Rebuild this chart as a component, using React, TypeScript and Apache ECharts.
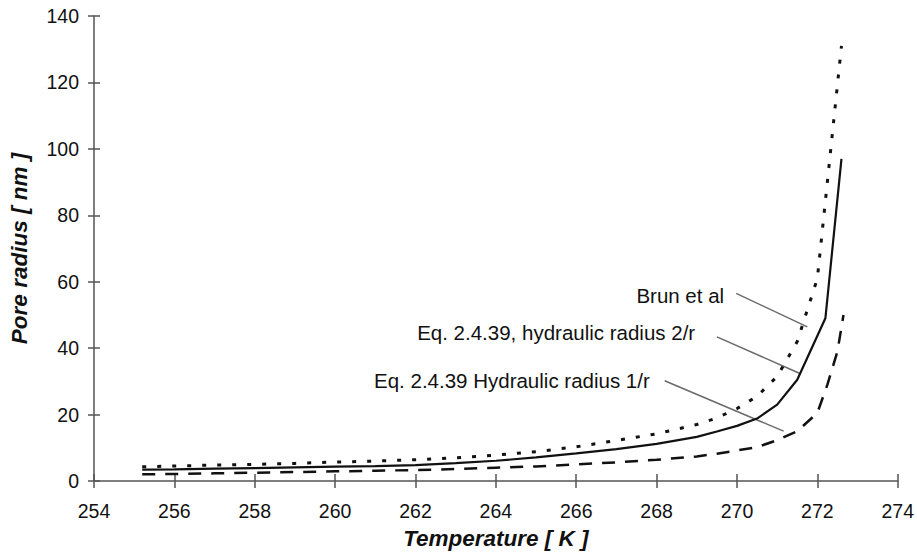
import React, { useEffect, useRef } from "react";
import * as echarts from "echarts";

// Temperature [K] and pore radius [nm] for each curve
const brunT = [255.2, 256, 257, 258, 259, 260, 261, 262, 263, 264, 265, 266, 267, 268, 269, 269.5, 270, 270.5, 271, 271.5, 272, 272.6];
const brunR = [4.3, 4.5, 4.8, 5.0, 5.3, 5.7, 6.0, 6.4, 7.0, 7.8, 8.8, 10.3, 12.2, 14.2, 17.0, 19.0, 21.8, 25.5, 31.5, 42, 61, 131];

const eq2T = [255.2, 256, 257, 258, 259, 260, 261, 262, 263, 264, 265, 266, 267, 268, 269, 269.5, 270, 270.5, 271, 271.5, 272.2, 272.6];
const eq2R = [3.4, 3.5, 3.7, 3.9, 4.1, 4.3, 4.5, 4.8, 5.4, 6.1, 7.1, 8.3, 9.6, 11.2, 13.3, 14.9, 16.6, 18.8, 23, 30.5, 49, 97];

const eq1T = [255.2, 256, 257, 258, 259, 260, 261, 262, 263, 264, 265, 266, 267, 268, 269, 269.5, 270, 270.5, 271, 271.5, 272, 272.25, 272.5, 272.65];
const eq1R = [2.0, 2.1, 2.3, 2.5, 2.7, 2.9, 3.1, 3.3, 3.6, 4.0, 4.4, 5.0, 5.6, 6.4, 7.4, 8.2, 9.2, 10.2, 12.3, 15.0, 20.5, 29, 39, 50];

// Annotations: text, text anchor (right end) and leader line in data coords
const annoText = ["Brun et al", "Eq. 2.4.39, hydraulic radius 2/r", "Eq. 2.4.39 Hydraulic radius 1/r"];
const annoAnchor = [[269.68, 55.9], [268.96, 44.6], [267.83, 30.2]];
const annoFrom = [[269.98, 56.5], [269.5, 43.4], [268.2, 30.2]];
const annoTo = [[271.75, 46.4], [271.58, 32.3], [271.16, 15]];

const xMin = 254, xMax = 274, xStep = 2;
const yMin = 0, yMax = 140, yStep = 20;

const FONT = "Liberation Sans, Arial, Helvetica, sans-serif";

function zip(a: number[], b: number[]) {
  return a.map((v, i) => [v, b[i]]);
}

export default function App() {
  const ref = useRef<HTMLDivElement>(null);
  useEffect(() => {
    if (!ref.current) return;
    const chart = echarts.init(ref.current, null, { renderer: "svg" });
    const axisColor = "#555555";
    const grid = { left: 88, right: 19, top: 16, bottom: 71 };
    chart.setOption({
      animation: false,
      backgroundColor: "#ffffff",
      grid,
      xAxis: [
        {
          type: "value", min: xMin, max: xMax, interval: xStep,
          name: "Temperature [ K ]", nameLocation: "middle", nameGap: 46,
          nameTextStyle: { fontFamily: FONT, fontSize: 22.5, fontWeight: "bold", fontStyle: "italic", color: "#111" },
          axisLine: { lineStyle: { color: axisColor, width: 1.5 } },
          axisTick: { show: true, length: 7, lineStyle: { color: axisColor, width: 1.5 } },
          axisLabel: { fontFamily: FONT, fontSize: 19.5, color: "#111", margin: 20 },
          splitLine: { show: false },
        },
        {
          type: "value", min: xMin, max: xMax, interval: xStep, position: "bottom",
          axisLine: { show: false },
          axisTick: { show: true, inside: true, length: 7, lineStyle: { color: axisColor, width: 1.5 } },
          axisLabel: { show: false },
          splitLine: { show: false },
        },
      ],
      yAxis: [
        {
          type: "value", min: yMin, max: yMax, interval: yStep,
          name: "Pore radius [ nm ]", nameLocation: "middle", nameGap: 63,
          nameTextStyle: { fontFamily: FONT, fontSize: 22.5, fontWeight: "bold", fontStyle: "italic", color: "#111" },
          axisLine: { show: true, lineStyle: { color: axisColor, width: 1.5 } },
          axisTick: { show: true, length: 6, lineStyle: { color: axisColor, width: 1.5 } },
          axisLabel: { fontFamily: FONT, fontSize: 19.5, color: "#111", margin: 15 },
          splitLine: { show: false },
        },
        {
          type: "value", min: yMin, max: yMax, interval: yStep, position: "left",
          axisLine: { show: false },
          axisTick: { show: true, inside: true, length: 6, lineStyle: { color: axisColor, width: 1.5 } },
          axisLabel: { show: false },
          splitLine: { show: false },
        },
      ],
      series: [
        {
          name: "Brun et al", type: "line", data: zip(brunT, brunR), showSymbol: false,
          lineStyle: { color: "#111", width: 3, type: [4, 11] },
        },
        {
          name: "Eq. 2.4.39, hydraulic radius 2/r", type: "line", data: zip(eq2T, eq2R), showSymbol: false,
          lineStyle: { color: "#111", width: 2.2, type: "solid" },
        },
        {
          name: "Eq. 2.4.39 Hydraulic radius 1/r", type: "line", data: zip(eq1T, eq1R), showSymbol: false,
          lineStyle: { color: "#111", width: 2.5, type: [13, 10] },
        },
      ],
    });

    const px = (p: number[]) => chart.convertToPixel({ xAxisIndex: 0, yAxisIndex: 0 }, p) as number[];
    const graphic: any[] = [];
    annoText.forEach((t, i) => {
      const a = px(annoAnchor[i]);
      const f = px(annoFrom[i]);
      const e = px(annoTo[i]);
      graphic.push({
        type: "text", x: a[0], y: a[1],
        style: { text: t, fontFamily: FONT, fontSize: 20.5, fill: "#111", align: "right", verticalAlign: "middle" },
      });
      graphic.push({
        type: "line", shape: { x1: f[0], y1: f[1], x2: e[0], y2: e[1] },
        style: { stroke: "#6a6a6a", lineWidth: 1.5 },
      });
    });
    chart.setOption({ graphic });

    return () => chart.dispose();
  }, []);
  return <div ref={ref} style={{ position: "fixed", left: 0, top: 0, width: 917, height: 555 }} />;
}
